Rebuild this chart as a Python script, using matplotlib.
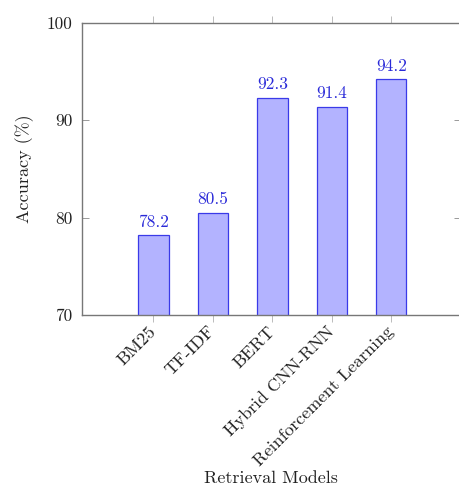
import matplotlib
matplotlib.use("Agg")
import matplotlib.pyplot as plt
import numpy as np

models = ["BM25", "TF-IDF", "BERT", "Hybrid CNN-RNN", "Reinforcement Learning"]
accuracy = [78.2, 80.5, 92.3, 91.4, 94.2]
yticks = [70, 80, 90, 100]

plt.rcParams['font.family'] = ['cmr10', 'DejaVu Serif']
plt.rcParams['axes.formatter.use_mathtext'] = True

fig = plt.figure(figsize=(4.6, 4.87), dpi=100)
ax = fig.add_axes([82/460, (487-315)/487, (461.5-82)/460, (315-23)/487])

x = np.arange(len(models))
ax.bar(x, accuracy, width=0.51, bottom=0, color='#b3b3ff', edgecolor='#3a3ae8',
       linewidth=0.9, zorder=2)
for xi, v in zip(x, accuracy):
    ax.annotate(f"{v:.1f}", (xi, v), xytext=(0, 4), textcoords='offset points',
                ha='center', va='bottom', color='#2a2ad8', fontsize=12.5)

ax.set_ylim(70, 100)
ax.set_xlim(-1.2, 5.18)
ax.set_yticks(yticks)
ax.set_yticklabels([str(t) for t in yticks])
ax.set_xticks(x)
ax.set_xticklabels(models, rotation=45, ha='right', va='center', rotation_mode='anchor')

ax.tick_params(axis='y', direction='in', left=True, right=True, length=5,
               width=0.7, color='#999999', labelsize=12.5, pad=7, labelcolor='#222222')
ax.tick_params(axis='x', direction='out', bottom=True, top=True, length=5,
               width=0.7, color='#bbbbbb', labelsize=13, pad=5, labelcolor='#222222')

for s in ax.spines.values():
    s.set_color('#777777')
    s.set_linewidth(1.0)
ax.spines['right'].set_visible(False)

ax.set_ylabel("Accuracy (%)", fontsize=13, color='#222222', labelpad=9)
fig.text(271/460, 1 - 478/487, "Retrieval Models", ha='center', va='center',
         fontsize=13, color='#222222')

fig.savefig("out.png", dpi=100)
